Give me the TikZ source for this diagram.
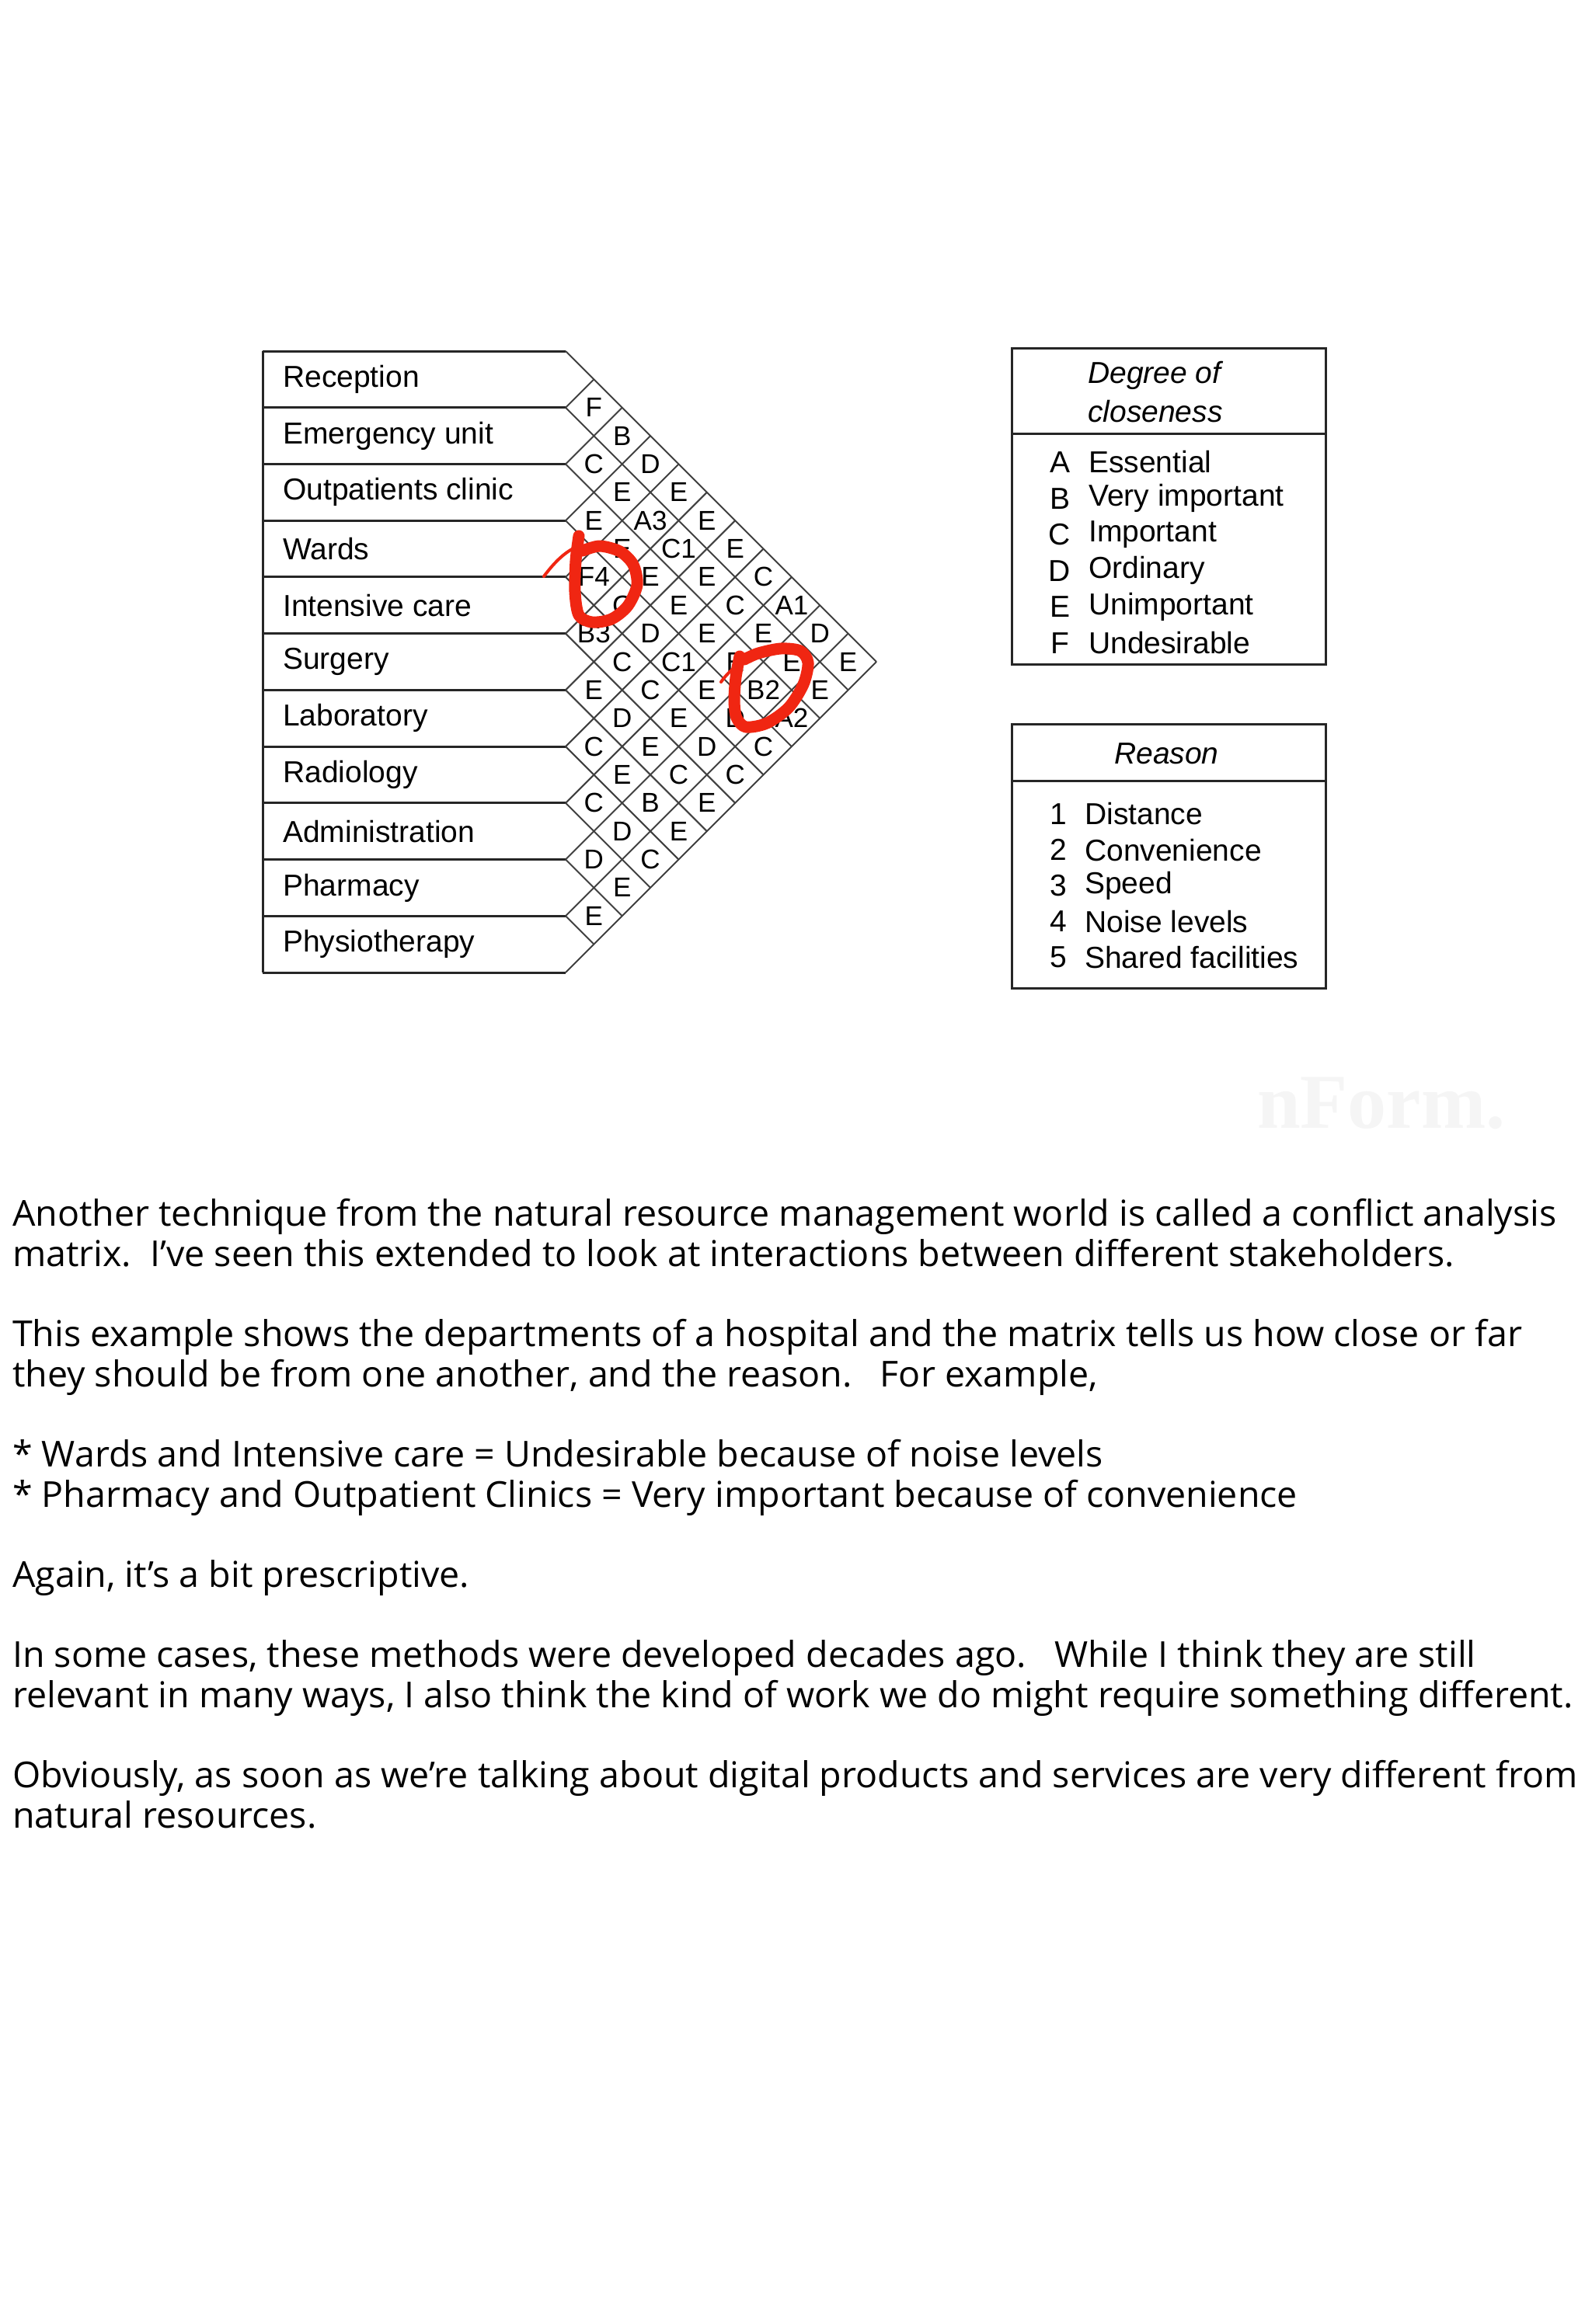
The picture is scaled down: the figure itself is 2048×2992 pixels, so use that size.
\documentclass[tikz,border=0pt]{standalone}
\usepackage{fontspec}
\setmainfont{Liberation Sans}
\newfontfamily\bodyfont{Open Sans}[FakeStretch=1.012]
\newfontfamily\pixfont{Liberation Sans}
\newfontfamily\markfont{Liberation Serif}
\definecolor{annot}{RGB}{240,38,18}
\tikzset{
  rowline/.style={line width=3pt, draw=black!85},
  gridline/.style={line width=2pt, draw=black!75},
  boxline/.style={line width=3pt, draw=black!85},
  rowlabel/.style={anchor=west, inner sep=0pt, font=\pixfont\fontsize{39}{47}\selectfont},
  cellmark/.style={inner sep=0pt, font=\pixfont\fontsize{35}{40}\selectfont},
  legkey/.style={inner sep=0pt, font=\pixfont\fontsize{39}{47}\selectfont},
  legtext/.style={anchor=west, inner sep=0pt, font=\pixfont\fontsize{39}{47}\selectfont},
  leghead/.style={anchor=west, inner sep=0pt, font=\pixfont\itshape\fontsize{39}{47}\selectfont},
  bodytext/.style={anchor=base west, inner sep=0pt, font=\bodyfont\fontsize{46}{52}\selectfont},
  redmark/.style={draw=annot, line width=15pt, line cap=round, line join=round},
  redtail/.style={draw=annot, line width=4pt, line cap=round}
}
\begin{document}
\begin{tikzpicture}[x=1pt,y=-1pt]
\useasboundingbox (0,0) rectangle (2048,2992);
\fill[white] (0,0) rectangle (2048,2992);

% ---- row boxes ----
\foreach \k in {0,...,11} {
  \pgfmathsetmacro\yy{452+\k*72.727}
  \draw[rowline] (338,\yy) -- (728,\yy);
}
\draw[rowline] (338,452) -- (338,1252);

% ---- diagonal grid ----
\foreach \b in {0,...,10} {
  \pgfmathsetmacro\yy{452+\b*72.727}
  \pgfmathsetmacro\dd{(11-\b)*36.364}
  \draw[gridline] (728,\yy) -- ++(\dd,\dd);
}
\foreach \b in {1,...,11} {
  \pgfmathsetmacro\yy{452+\b*72.727}
  \pgfmathsetmacro\dd{\b*36.364}
  \draw[gridline] (728,\yy) -- ++(\dd,-\dd);
}

% ---- row labels ----
\foreach \k/\lab in {0/Reception,1/Emergency unit,2/Outpatients clinic,3/Wards,4/Intensive care,5/Surgery,6/Laboratory,7/Radiology,8/Administration,9/Pharmacy,10/Physiotherapy} {
  \pgfmathsetmacro\yy{452+(\k+0.5)*72.727}
  \node[rowlabel] (r\k) at (364,\yy) {\lab};
}

% ---- cell ratings ----
\foreach \i/\j/\t in {
  0/1/F,0/2/B,0/3/D,0/4/E,0/5/E,0/6/E,0/7/C,0/8/A1,0/9/D,0/10/E,
  1/2/C,1/3/E,1/4/A3,1/5/C1,1/6/E,1/7/C,1/8/E,1/9/E,1/10/E,
  2/3/E,2/4/E,2/5/E,2/6/E,2/7/E,2/8/E,2/9/B2,2/10/A2,
  3/4/F4,3/5/C,3/6/D,3/7/C1,3/8/E,3/9/D,3/10/C,
  4/5/B3,4/6/C,4/7/C,4/8/E,4/9/D,4/10/C,
  5/6/E,5/7/D,5/8/E,5/9/C,5/10/E,
  6/7/C,6/8/E,6/9/B,6/10/E,
  7/8/C,7/9/D,7/10/C,
  8/9/D,8/10/E,
  9/10/E} {
  \pgfmathsetmacro\cx{728+(\j-\i)*36.364}
  \pgfmathsetmacro\cy{452+(\i+\j+1)*36.364}
  \node[cellmark] (c\i-\j) at (\cx,\cy) {\t};
}

% ---- red annotations ----
\draw[redtail] (700,742) .. controls (715,722) and (728,710) .. (744,703);
\draw[redmark] plot[smooth] coordinates {(745,690) (741,722) (740,762) (745,792) (762,801) (787,797) (808,780) (820,753) (815,727) (798,710) (772,703) (750,709)};
\draw[redtail] (928,878) .. controls (935,868) and (942,862) .. (950,856);
\draw[redmark] plot[smooth] coordinates {(952,845) (947,872) (945,902) (948,924) (960,936) (987,931) (1015,911) (1034,881) (1040,853) (1030,838) (1005,835) (976,841) (958,849)};

% ---- legend: degree of closeness ----
\draw[boxline] (1302,448) rectangle (1706,855);
\draw[boxline] (1302,558) -- (1706,558);
\node[leghead] (dh1) at (1400,483) {Degree of};
\node[leghead] (dh2) at (1400,530) {closeness};
\foreach \n/\k/\lab in {0/A/Essential,1/B/Very important,2/C/Important,3/D/Ordinary,4/E/Unimportant,5/F/Undesirable} {
  \pgfmathsetmacro\yy{595+\n*46.6}
  \node[legkey] (dk\n) at (1364,\yy) {\k};
  \node[legtext] (dt\n) at (1401,\yy) {\lab};
}

% ---- legend: reason ----
\draw[boxline] (1302,932) rectangle (1706,1272);
\draw[boxline] (1302,1005) -- (1706,1005);
\node[leghead] (rh) at (1434,970) {Reason};
\foreach \n/\lab in {1/Distance,2/Convenience,3/Speed,4/Noise levels,5/Shared facilities} {
  \pgfmathsetmacro\yy{1048+(\n-1)*46.1}
  \node[legkey] (rk\n) at (1362,\yy) {\n};
  \node[legtext] (rt\n) at (1396,\yy) {\lab};
}

% ---- watermark ----
\node[anchor=base west, inner sep=0pt, text=black!4, font=\markfont\bfseries\fontsize{100}{100}\selectfont] (wm) at (1618,1452) {nForm.};

% ---- body text ----
\node[bodytext] (t1) at (16,1578) {Another technique from the natural resource management world is called a conflict analysis};
\node[bodytext] (t2) at (16,1630) {matrix.\ \ I’ve seen this extended to look at interactions between different stakeholders.};
\node[bodytext] (t3) at (16,1733) {This example shows the departments of a hospital and the matrix tells us how close or far};
\node[bodytext] (t4) at (16,1785) {they should be from one another, and the reason.\ \ \ For example,};
\node[bodytext] (t5) at (16,1888) {* Wards and Intensive care = Undesirable because of noise levels};
\node[bodytext] (t6) at (16,1940) {* Pharmacy and Outpatient Clinics = Very important because of convenience};
\node[bodytext] (t7) at (16,2043) {Again, it’s a bit prescriptive.};
\node[bodytext] (t8) at (16,2146) {In some cases, these methods were developed decades ago.\ \ \ While I think they are still};
\node[bodytext] (t9) at (16,2198) {relevant in many ways, I also think the kind of work we do might require something different.};
\node[bodytext] (t10) at (16,2301) {Obviously, as soon as we’re talking about digital products and services are very different from};
\node[bodytext] (t11) at (16,2353) {natural resources.};
\end{tikzpicture}
\end{document}
